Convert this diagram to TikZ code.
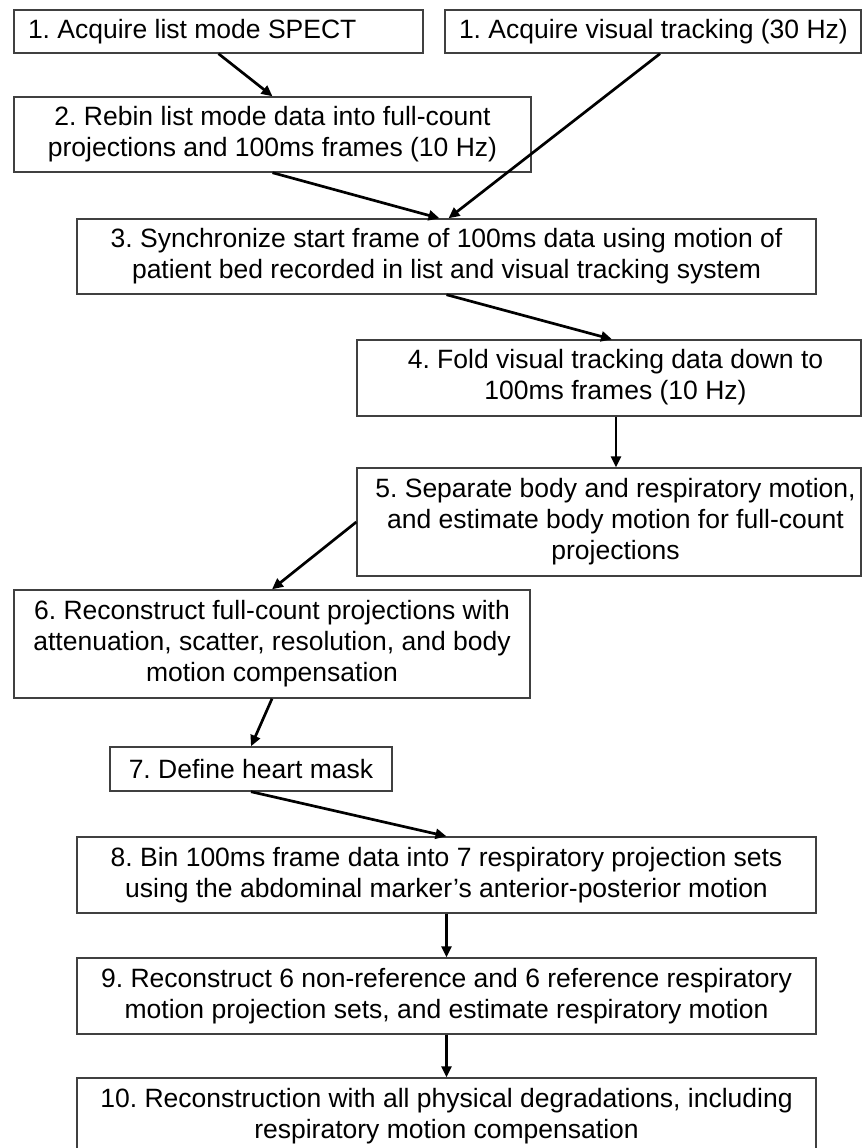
\documentclass[tikz,border=0pt]{standalone}
\usepackage{fontspec}
\setmainfont{Liberation Sans}
\usetikzlibrary{arrows.meta,calc}
\newcommand\shiftrtext[1]{\hspace*{13pt}\begin{tabular}{@{}c@{}}#1\end{tabular}}
\newcommand\leftfill[2]{\makebox[#1][l]{#2}}
\begin{document}
\frenchspacing
\begin{tikzpicture}[x=1pt,y=-1pt,
  box/.style={draw=black!75, line width=1.4pt, inner xsep=0pt, inner ysep=0pt,
    align=center, font=\fontsize{26.5}{31}\selectfont\frenchspacing, anchor=center},
  arr/.style={-{Triangle[length=11pt,width=10pt]}, line width=2.7pt, black}]
\useasboundingbox (0,0) rectangle (863,1148);
\clip (0,0) rectangle (863,1148);
\fill[white] (0,0) rectangle (863,1148);
\node[box, minimum width=409pt, minimum height=43pt] (b1a) at (218.5,31.5) {\leftfill{381pt}{1. Acquire list mode SPECT}};
\node[box, minimum width=416pt, minimum height=43pt] (b1b) at (653,31.5) {\leftfill{388pt}{1. Acquire visual tracking (30 Hz)}};
\node[box, minimum width=517pt, minimum height=75pt] (b2) at (272.5,134.5) {2. Rebin list mode data into full-count\\projections and 100ms frames (10 Hz)};
\node[box, minimum width=739pt, minimum height=75pt] (b3) at (446.5,256.5) {3. Synchronize start frame of 100ms data using motion of\\patient bed recorded in list and visual tracking system};
\node[box, minimum width=504pt, minimum height=76pt] (b4) at (609,378) {\shiftrtext{4. Fold visual tracking data down to\\100ms frames (10 Hz)}};
\node[box, minimum width=504pt, minimum height=108pt] (b5) at (609,522) {\shiftrtext{5. Separate body and respiratory motion,\\and estimate body motion for full-count\\projections}};
\node[box, minimum width=516pt, minimum height=108pt] (b6) at (272,644) {6. Reconstruct full-count projections with\\attenuation, scatter, resolution, and body\\motion compensation};
\node[box, minimum width=282pt, minimum height=44pt] (b7) at (251,769) {7. Define heart mask};
\node[box, minimum width=739pt, minimum height=76pt] (b8) at (446.5,875) {8. Bin 100ms frame data into 7 respiratory projection sets\\using the abdominal marker’s anterior-posterior motion};
\node[box, minimum width=739pt, minimum height=76pt] (b9) at (446.5,996) {9. Reconstruct 6 non-reference and 6 reference respiratory\\motion projection sets, and estimate respiratory motion};
\node[box, minimum width=739pt, minimum height=76pt] (b10) at (446.5,1116) {10. Reconstruction with all physical degradations, including\\respiratory motion compensation};
\draw[arr] (b1a.south) -- (b2.north);
\draw[arr] ($(b1b.south)+(7,0)$) -- ($(b3.north)+(2,0)$);
\draw[arr] (b2.south) -- ($(b3.north)+(-7,0)$);
\draw[arr] (b3.south) -- ($(b4.north)+(3,0)$);
\draw[arr] ($(b4.south)+(7,0)$) -- ($(b5.north)+(7,0)$);
\draw[arr] (b5.west) -- (b6.north);
\draw[arr] (b6.south) -- (b7.north);
\draw[arr] (b7.south) -- (b8.north);
\draw[arr] (b8.south) -- (b9.north);
\draw[arr] (b9.south) -- (b10.north);
\end{tikzpicture}
\end{document}
